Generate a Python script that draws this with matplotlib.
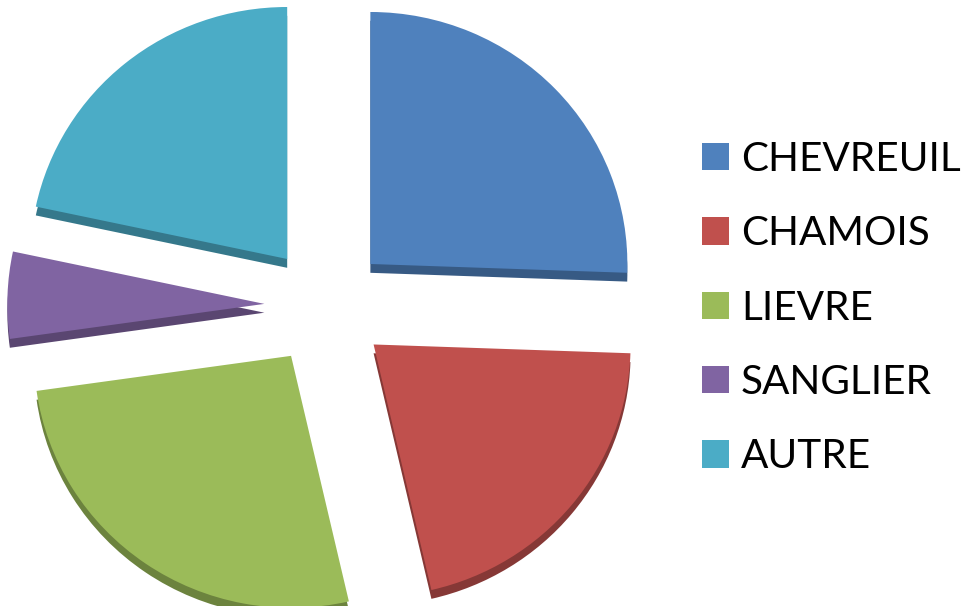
import matplotlib
matplotlib.use("Agg")
import matplotlib.pyplot as plt
from matplotlib.patches import Patch
import matplotlib.colors as mcolors

categories = ["CHEVREUIL", "CHAMOIS", "LIEVRE", "SANGLIER", "AUTRE"]
values = [92, 75, 95, 20, 78]
colors = ["#4F81BD", "#C0504D", "#9BBB59", "#8064A2", "#4BACC6"]

def darken(c, f=0.7):
    r, g, b = mcolors.to_rgb(c)
    return (r * f, g * f, b * f)

W, H = 965, 606
fig = plt.figure(figsize=(W / 100, H / 100), dpi=100)
ax = fig.add_axes([0, 0, 1, 1])

sx, sy = 257.0, 252.0   # pixels per data unit (slight 3D tilt)
cx_px, cy_px = 326, 306  # pie center in pixels (from top)
explode = [0.24] * len(values)

# side wall (3D thickness)
ax.pie(values, colors=[darken(c) for c in colors], startangle=90, counterclock=False,
       explode=explode, radius=1.0, center=(0, -0.035),
       wedgeprops=dict(linewidth=0))
ax.pie(values, colors=colors, startangle=90, counterclock=False,
       explode=explode, radius=1.0, center=(0, 0),
       wedgeprops=dict(linewidth=0))

ax.set_xlim(-cx_px / sx, (W - cx_px) / sx)
ax.set_ylim(-(H - cy_px) / sy, cy_px / sy)
ax.set_aspect("auto")
ax.axis("off")

handles = [Patch(facecolor=c, edgecolor="none") for c in colors]
leg = fig.legend(handles, categories, loc="center left",
                 bbox_to_anchor=(702 / W, 1 - 308 / H), frameon=False,
                 prop=dict(family=["Lato", "DejaVu Sans"], size=29.2),
                 handlelength=0.66, handleheight=0.66, handletextpad=0.3,
                 labelspacing=0.92, borderpad=0, borderaxespad=0)

fig.savefig("out.png", dpi=100)
